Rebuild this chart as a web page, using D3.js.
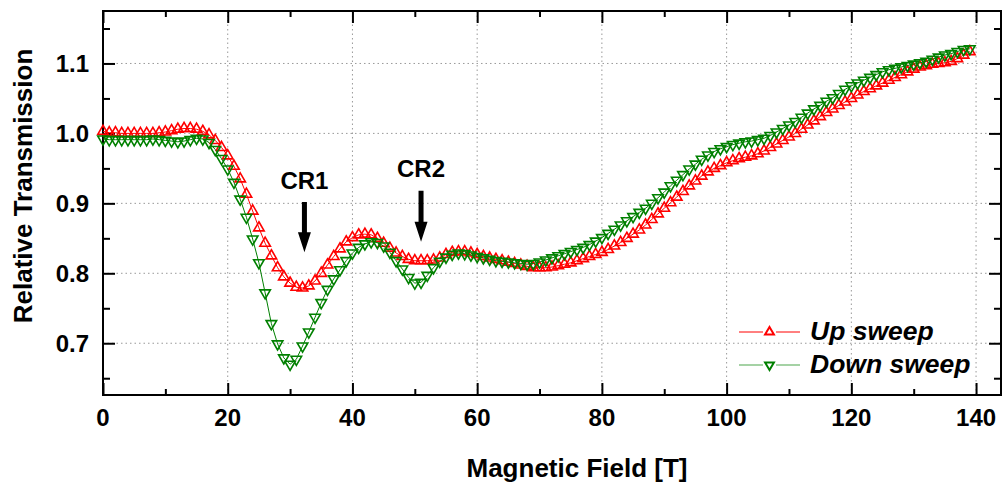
<!DOCTYPE html>
<html>
<head>
<meta charset="utf-8">
<script src="https://cdn.jsdelivr.net/npm/d3@7"></script>
<style>
  body { margin: 0; background: #fff; }
  svg { display: block; font-family: "Liberation Sans", Arial, sans-serif; }
</style>
</head>
<body>
<svg id="chart" width="1002" height="489"></svg>
<script>
// magnetic field [T] for each sample
var field = [0,1,2,3,4,5,6,7,8,9,10,11,12,13,14,15,16,17,18,19,
  20,21,22,23,24,25,26,27,28,29,30,31,32,33,34,35,36,37,38,39,
  40,41,42,43,44,45,46,47,48,49,50,51,52,53,54,55,56,57,58,59,
  60,61,62,63,64,65,66,67,68,69,70,71,72,73,74,75,76,77,78,79,
  80,81,82,83,84,85,86,87,88,89,90,91,92,93,94,95,96,97,98,99,
  100,101,102,103,104,105,106,107,108,109,110,111,112,113,114,115,116,117,118,119,
  120,121,122,123,124,125,126,127,128,129,130,131,132,133,134,135,136,137,138,139];

var up_sweep = [1.003,1.001,1.001,1.000,1.000,1.000,1.000,1.000,1.000,1.001,
  1.002,1.004,1.006,1.007,1.007,1.006,1.003,0.998,0.990,0.980,
  0.968,0.953,0.935,0.913,0.889,0.865,0.843,0.825,0.808,0.795,
  0.786,0.780,0.779,0.782,0.789,0.800,0.812,0.824,0.835,0.845,
  0.851,0.855,0.856,0.855,0.850,0.843,0.836,0.829,0.824,0.820,
  0.818,0.818,0.818,0.819,0.822,0.827,0.830,0.831,0.831,0.829,
  0.827,0.824,0.822,0.820,0.818,0.816,0.814,0.812,0.810,0.808,
  0.808,0.808,0.809,0.811,0.813,0.815,0.818,0.821,0.824,0.827,
  0.830,0.834,0.839,0.844,0.850,0.856,0.862,0.869,0.877,0.885,
  0.893,0.901,0.909,0.917,0.925,0.932,0.939,0.945,0.950,0.954,
  0.958,0.961,0.964,0.966,0.968,0.971,0.975,0.980,0.985,0.990,
  0.995,1.000,1.006,1.012,1.018,1.024,1.030,1.035,1.040,1.045,
  1.050,1.055,1.060,1.064,1.068,1.072,1.076,1.080,1.084,1.088,
  1.092,1.095,1.097,1.099,1.100,1.101,1.103,1.107,1.112,1.117];

var down_sweep = [0.992,0.991,0.991,0.991,0.991,0.991,0.991,0.991,0.992,0.991,
  0.990,0.989,0.988,0.989,0.991,0.993,0.992,0.987,0.977,0.964,
  0.949,0.930,0.906,0.880,0.849,0.815,0.772,0.728,0.699,0.679,
  0.670,0.677,0.696,0.716,0.737,0.758,0.777,0.792,0.805,0.818,
  0.829,0.837,0.842,0.845,0.844,0.839,0.830,0.818,0.806,0.794,
  0.786,0.787,0.797,0.808,0.817,0.823,0.827,0.829,0.828,0.826,
  0.824,0.822,0.820,0.818,0.817,0.816,0.815,0.814,0.813,0.814,
  0.816,0.819,0.822,0.825,0.828,0.831,0.834,0.837,0.841,0.846,
  0.851,0.857,0.863,0.869,0.875,0.881,0.887,0.893,0.900,0.908,
  0.916,0.925,0.933,0.941,0.949,0.956,0.963,0.969,0.974,0.978,
  0.981,0.984,0.986,0.988,0.989,0.991,0.993,0.997,1.002,1.007,
  1.012,1.017,1.023,1.029,1.035,1.040,1.046,1.051,1.057,1.063,
  1.068,1.072,1.076,1.080,1.084,1.088,1.091,1.093,1.095,1.097,
  1.099,1.101,1.103,1.106,1.109,1.112,1.114,1.117,1.120,1.121];

var x_ticks = [0, 20, 40, 60, 80, 100, 120, 140];
var y_ticks = [0.7, 0.8, 0.9, 1.0, 1.1];
var labels = [
  { text: "CR1", field: 32.3, top: 0.902, tip: 0.830, ty: 0.92 },
  { text: "CR2", field: 51.0, top: 0.918, tip: 0.845, ty: 0.937 }
];
var series_names = ["Up sweep", "Down sweep"];

var svg = d3.select("#chart");
var margin = { left: 103, right: 1, top: 11, bottom: 94 };
var width = 1002, height = 489;

var x = d3.scaleLinear().domain([0, 144]).range([margin.left, width - margin.right]);
var y = d3.scaleLinear().domain([0.626, 1.175]).range([height - margin.bottom, margin.top]);

var x0 = x.range()[0], x1 = x.range()[1], y0 = y.range()[0], y1 = y.range()[1];

// grid
var grid = svg.append("g")
  .attr("stroke", "#999")
  .attr("stroke-width", 1)
  .attr("stroke-dasharray", "1.5,3");
grid.selectAll("line.gx").data(x_ticks.filter(d => d > 0)).join("line")
  .attr("x1", d => x(d)).attr("x2", d => x(d))
  .attr("y1", y0).attr("y2", y1);
grid.selectAll("line.gy").data(y_ticks).join("line")
  .attr("y1", d => y(d)).attr("y2", d => y(d))
  .attr("x1", x0).attr("x2", x1);

// axes (ticks inward)
var fmtY = d3.format(".1f");
svg.append("g")
  .attr("transform", `translate(0,${y0})`)
  .call(d3.axisTop(x).tickValues(d3.range(0, 145, 10)).tickSize(6).tickFormat(""))
  .call(g => g.selectAll(".tick line").filter(d => d % 20 === 0).attr("y2", -12))
  .call(g => g.select(".domain").remove())
  .call(g => g.selectAll(".tick line").attr("stroke-width", 2));
svg.append("g")
  .attr("transform", `translate(0,${y1})`)
  .call(d3.axisBottom(x).tickValues(d3.range(0, 145, 10)).tickSize(6).tickFormat(""))
  .call(g => g.selectAll(".tick line").filter(d => d % 20 === 0).attr("y2", 12))
  .call(g => g.select(".domain").remove())
  .call(g => g.selectAll(".tick line").attr("stroke-width", 2));

var yMinor = [0.65, 0.7, 0.75, 0.8, 0.85, 0.9, 0.95, 1.0, 1.05, 1.1, 1.15];
svg.append("g")
  .attr("transform", `translate(${x0},0)`)
  .call(d3.axisRight(y).tickValues(yMinor).tickSize(7).tickFormat(""))
  .call(g => g.selectAll(".tick line").filter(d => y_ticks.some(t => Math.abs(t - d) < 1e-6)).attr("x2", 12))
  .call(g => g.select(".domain").remove())
  .call(g => g.selectAll(".tick line").attr("stroke-width", 2));
svg.append("g")
  .attr("transform", `translate(${x1},0)`)
  .call(d3.axisLeft(y).tickValues(yMinor).tickSize(7).tickFormat(""))
  .call(g => g.selectAll(".tick line").filter(d => y_ticks.some(t => Math.abs(t - d) < 1e-6)).attr("x2", -12))
  .call(g => g.select(".domain").remove())
  .call(g => g.selectAll(".tick line").attr("stroke-width", 2));

// frame
svg.append("rect")
  .attr("x", x0).attr("y", y1)
  .attr("width", x1 - x0).attr("height", y0 - y1)
  .attr("fill", "none").attr("stroke", "#000").attr("stroke-width", 2);

// tick labels
svg.append("g")
  .attr("font-size", 24).attr("font-weight", "bold").attr("text-anchor", "middle")
  .selectAll("text").data(x_ticks).join("text")
  .attr("x", d => x(d)).attr("y", y0 + 31)
  .text(d => d);
svg.append("g")
  .attr("font-size", 24).attr("font-weight", "bold").attr("text-anchor", "end")
  .selectAll("text").data(y_ticks).join("text")
  .attr("x", x0 - 14).attr("y", d => y(d)).attr("dy", "0.35em")
  .text(d => fmtY(d));

// axis titles
svg.append("text")
  .attr("x", 577).attr("y", 477)
  .attr("text-anchor", "middle").attr("font-size", 26).attr("font-weight", "bold")
  .text("Magnetic Field [T]");
svg.append("text")
  .attr("transform", "translate(32,186) rotate(-90)")
  .attr("text-anchor", "middle").attr("font-size", 26).attr("font-weight", "bold")
  .text("Relative Transmission");

// series
var colors = ["#ff0000", "#008000"];
var rot = [0, 180];
var all = [up_sweep, down_sweep];
var tri = d3.symbol().type(d3.symbolTriangle).size(48);

all.forEach(function (vals, k) {
  var pts = field.map((f, i) => ({ f: f, v: vals[i] }));
  var line = d3.line().x(d => x(d.f)).y(d => y(d.v));
  var g = svg.append("g");
  g.append("path").datum(pts)
    .attr("fill", "none").attr("stroke", colors[k]).attr("stroke-width", 1)
    .attr("d", line);
  g.selectAll("path.m").data(pts).join("path")
    .attr("class", "m")
    .attr("transform", d => `translate(${x(d.f)},${y(d.v)}) rotate(${rot[k]})`)
    .attr("d", tri)
    .attr("fill", "none").attr("stroke", colors[k]).attr("stroke-width", 1.6);
});

// annotations
labels.forEach(function (l) {
  var ax = x(l.field);
  svg.append("text")
    .attr("x", ax).attr("y", y(l.ty))
    .attr("text-anchor", "middle").attr("font-size", 24).attr("font-weight", "bold")
    .text(l.text);
  var yt = y(l.top), yp = y(l.tip), yh = yp - 20;
  svg.append("path")
    .attr("d", `M${ax - 2.5},${yt}L${ax + 2.5},${yt}L${ax + 2.5},${yh}L${ax + 6.5},${yh}L${ax},${yp}L${ax - 6.5},${yh}L${ax - 2.5},${yh}Z`)
    .attr("fill", "#000");
});

// legend
var leg = svg.append("g");
series_names.forEach(function (name, k) {
  var ly = 332 + k * 33;
  leg.append("line").attr("x1", 739).attr("x2", 800).attr("y1", ly).attr("y2", ly)
    .attr("stroke", colors[k]).attr("stroke-width", 1).attr("opacity", k ? 0.7 : 1);
  leg.append("rect").attr("x", 763).attr("y", ly - 6).attr("width", 13).attr("height", 12).attr("fill", "#fff");
  leg.append("path")
    .attr("transform", `translate(769.5,${ly}) rotate(${rot[k]})`)
    .attr("d", d3.symbol().type(d3.symbolTriangle).size(34))
    .attr("fill", "none").attr("stroke", colors[k]).attr("stroke-width", 2);
  leg.append("text")
    .attr("x", 810).attr("y", ly + 8)
    .attr("font-size", 26.5).attr("font-weight", "bold").attr("font-style", "italic")
    .text(name);
});
</script>
</body>
</html>
